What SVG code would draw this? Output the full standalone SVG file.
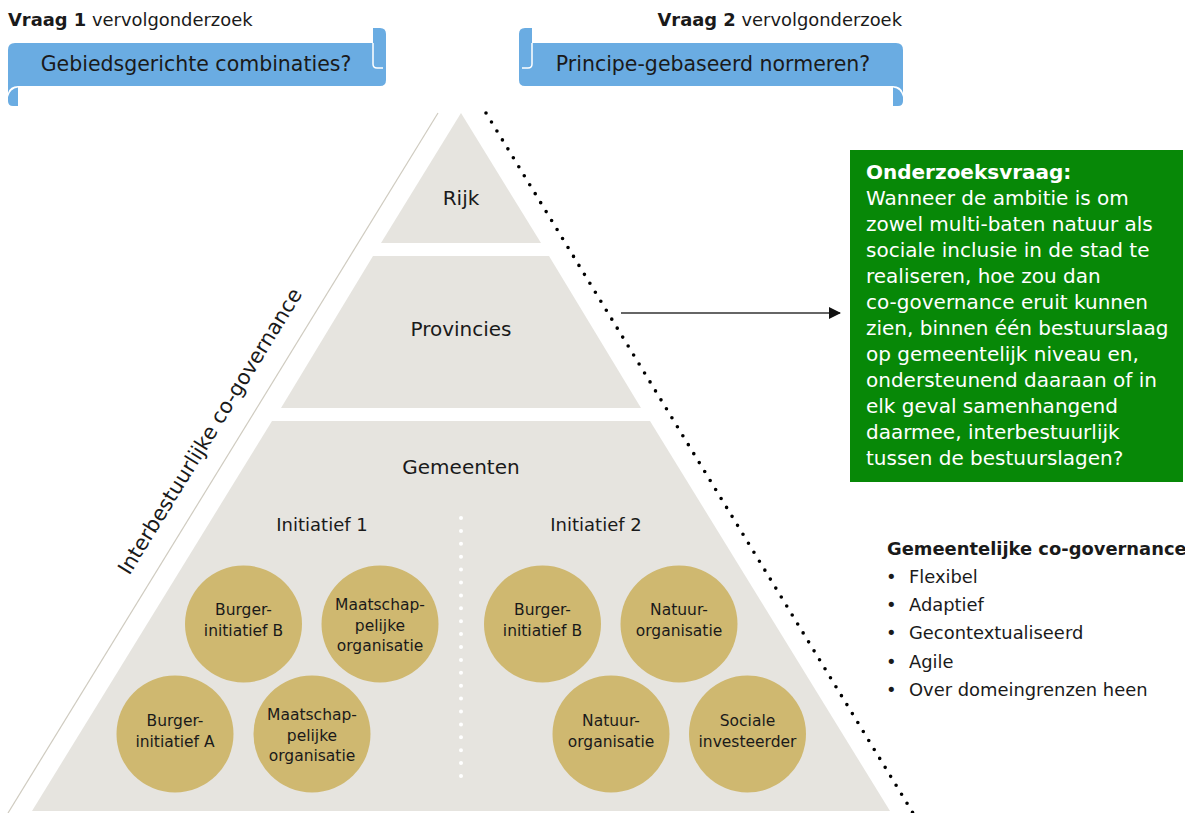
<svg xmlns="http://www.w3.org/2000/svg" width="1185" height="813" viewBox="0 0 1185 813">
  <style>
    text { font-family: "DejaVu Sans", Verdana, "Liberation Sans", sans-serif; fill: #1a1a1a; }
    .title { font-size: 17.9px; }
    .b { font-weight: bold; }
    .banner { fill: #6aace2; }
    .banner-text { font-size: 20.5px; text-anchor: middle; }
    .curl { fill: none; stroke: #ffffff; stroke-width: 1.5; }
    .layer { fill: #e6e4df; }
    .layer-label { font-size: 20px; text-anchor: middle; }
    .init-label { font-size: 18px; text-anchor: middle; }
    .actor { fill: #cfb870; }
    .actor-text { font-size: 15.5px; text-anchor: middle; }
    .green { fill: #078807; }
    .green-text { font-size: 20px; fill: #ffffff; }
    .list { font-size: 17.9px; }
  </style>
  <defs>
    <marker id="arrowhead" viewBox="0 0 12 12" refX="11" refY="6" markerWidth="12" markerHeight="12" markerUnits="userSpaceOnUse" orient="auto">
      <path d="M0,0 L12,6 L0,12 Z" fill="#111111"/>
    </marker>
  </defs>

  <rect width="1185" height="813" fill="#ffffff"/>

  <!-- Follow-up question 1 banner -->
  <g id="vraag1">
    <text class="title" x="8" y="26"><tspan class="b">Vraag 1</tspan> vervolgonderzoek</text>
    <path class="banner" d="M15,43 H373 V28 H380 Q386,28 386,34 V80 Q386,86 380,86 H18 Q10,86 8,93 V50 Q8,43 15,43 Z"/>
    <path class="banner" d="M18,87.5 V106 H13 Q8,106 8,101 V97 Q10,88.5 18,87.5 Z"/>
    <path class="curl" d="M373,43 V64 Q373,68 377,68 H383"/>
    <text class="banner-text" x="196" y="71">Gebiedsgerichte combinaties?</text>
  </g>

  <!-- Follow-up question 2 banner -->
  <g id="vraag2">
    <text class="title" x="902" y="26" text-anchor="end"><tspan class="b">Vraag 2</tspan> vervolgonderzoek</text>
    <path class="banner" d="M896,43 H532 V28 H525 Q519,28 519,34 V80 Q519,86 525,86 H893 Q901,86 903,93 V50 Q903,43 896,43 Z"/>
    <path class="banner" d="M893,87.5 V106 H898 Q903,106 903,101 V97 Q901,88.5 893,87.5 Z"/>
    <path class="curl" d="M532,43 V64 Q532,68 528,68 H522"/>
    <text class="banner-text" x="713" y="71">Principe-gebaseerd normeren?</text>
  </g>

  <!-- Side guides of the pyramid -->
  <g id="guides">
    <line x1="438" y1="113" x2="8" y2="813" stroke="#cfcbc0" stroke-width="1.2"/>
    <line x1="486" y1="113" x2="913" y2="813" stroke="#000000" stroke-width="3.6" stroke-linecap="round" stroke-dasharray="0 10.5"/>
    <text x="216" y="435" font-size="20.8" text-anchor="middle" transform="rotate(-58.4 216 435)">Interbestuurlijke co-governance</text>
  </g>

  <!-- Government layers -->
  <g id="rijk">
    <polygon class="layer" points="461,113 541,243 381,243"/>
    <text class="layer-label" x="461" y="205">Rijk</text>
  </g>
  <g id="provincies">
    <polygon class="layer" points="373,256 549,256 641,408 281,408"/>
    <text class="layer-label" x="461" y="336">Provincies</text>
  </g>
  <g id="gemeenten">
    <polygon class="layer" points="272,421 650,421 890,811 32,811"/>
    <text class="layer-label" x="461" y="474">Gemeenten</text>
    <line x1="461" y1="518" x2="461" y2="777" stroke="#ffffff" stroke-width="4" stroke-linecap="round" stroke-dasharray="0 12.9"/>
    <text class="init-label" x="322" y="531">Initiatief 1</text>
    <text class="init-label" x="596" y="531">Initiatief 2</text>
  </g>

  <!-- Initiative 1 actors -->
  <g id="i1-burger-b">
    <circle class="actor" cx="243.5" cy="624" r="58.5"/>
    <text class="actor-text" x="243.5" y="615">Burger-</text>
    <text class="actor-text" x="243.5" y="636">initiatief B</text>
  </g>
  <g id="i1-maatschap-1">
    <circle class="actor" cx="380" cy="624" r="58.5"/>
    <text class="actor-text" x="380" y="610">Maatschap-</text>
    <text class="actor-text" x="380" y="630.5">pelijke</text>
    <text class="actor-text" x="380" y="651">organisatie</text>
  </g>
  <g id="i1-burger-a">
    <circle class="actor" cx="175" cy="734" r="58.5"/>
    <text class="actor-text" x="175" y="726">Burger-</text>
    <text class="actor-text" x="175" y="747">initiatief A</text>
  </g>
  <g id="i1-maatschap-2">
    <circle class="actor" cx="312" cy="734" r="58.5"/>
    <text class="actor-text" x="312" y="720">Maatschap-</text>
    <text class="actor-text" x="312" y="740.5">pelijke</text>
    <text class="actor-text" x="312" y="761">organisatie</text>
  </g>

  <!-- Initiative 2 actors -->
  <g id="i2-burger-b">
    <circle class="actor" cx="542.5" cy="624" r="58.5"/>
    <text class="actor-text" x="542.5" y="615">Burger-</text>
    <text class="actor-text" x="542.5" y="636">initiatief B</text>
  </g>
  <g id="i2-natuur-1">
    <circle class="actor" cx="679" cy="624" r="58.5"/>
    <text class="actor-text" x="679" y="615">Natuur-</text>
    <text class="actor-text" x="679" y="636">organisatie</text>
  </g>
  <g id="i2-natuur-2">
    <circle class="actor" cx="611" cy="734" r="58.5"/>
    <text class="actor-text" x="611" y="726">Natuur-</text>
    <text class="actor-text" x="611" y="747">organisatie</text>
  </g>
  <g id="i2-sociaal">
    <circle class="actor" cx="747.5" cy="734" r="58.5"/>
    <text class="actor-text" x="747.5" y="726">Sociale</text>
    <text class="actor-text" x="747.5" y="747">investeerder</text>
  </g>

  <!-- Connector -->
  <g id="connectors">
    <line x1="621" y1="313" x2="840" y2="313" stroke="#333333" stroke-width="1.5" marker-end="url(#arrowhead)"/>
  </g>

  <!-- Research question -->
  <g id="onderzoeksvraag">
    <rect class="green" x="850" y="150" width="333" height="332"/>
    <text class="green-text" x="866" y="179">
      <tspan x="866" class="b">Onderzoeksvraag:</tspan>
      <tspan x="866" dy="26">Wanneer de ambitie is om</tspan>
      <tspan x="866" dy="26">zowel multi-baten natuur als</tspan>
      <tspan x="866" dy="26">sociale inclusie in de stad te</tspan>
      <tspan x="866" dy="26">realiseren, hoe zou dan</tspan>
      <tspan x="866" dy="26">co-governance eruit kunnen</tspan>
      <tspan x="866" dy="26">zien, binnen één bestuurslaag</tspan>
      <tspan x="866" dy="26">op gemeentelijk niveau en,</tspan>
      <tspan x="866" dy="26">ondersteunend daaraan of in</tspan>
      <tspan x="866" dy="26">elk geval samenhangend</tspan>
      <tspan x="866" dy="26">daarmee, interbestuurlijk</tspan>
      <tspan x="866" dy="26">tussen de bestuurslagen?</tspan>
    </text>
  </g>

  <!-- Municipal co-governance characteristics -->
  <g id="gemeentelijk">
    <text class="list b" x="887" y="555">Gemeentelijke co-governance</text>
    <text class="list" x="886" y="583">•</text><text class="list" x="909" y="583">Flexibel</text>
    <text class="list" x="886" y="611">•</text><text class="list" x="909" y="611">Adaptief</text>
    <text class="list" x="886" y="639">•</text><text class="list" x="909" y="639">Gecontextualiseerd</text>
    <text class="list" x="886" y="668">•</text><text class="list" x="909" y="668">Agile</text>
    <text class="list" x="886" y="696">•</text><text class="list" x="909" y="696">Over domeingrenzen heen</text>
  </g>
</svg>
